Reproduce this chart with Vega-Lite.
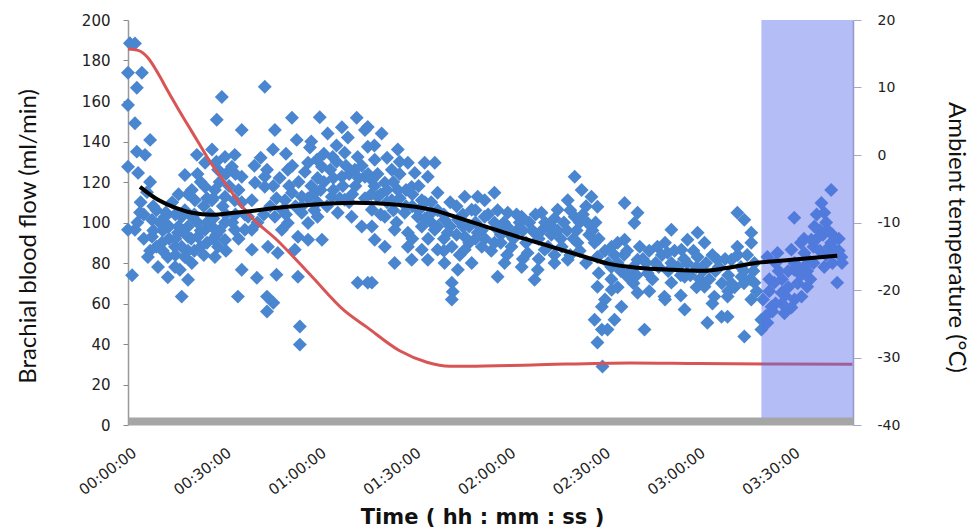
{
  "$schema": "https://vega.github.io/schema/vega-lite/v6.json",
  "width": 725,
  "height": 405,
  "autosize": {"type": "none"},
  "padding": {"left": 128, "top": 20, "right": 118, "bottom": 105},
  "background": "white",
  "config": {"view": {"stroke": null}, "axis": {"grid": false}},
  "datasets": {
    "flow": [
      {"m":0.6,"f":188.5},{"m":2.2,"f":188.4},{"m":0,"f":174},{"m":4.4,"f":174},{"m":2.8,"f":166.5},{"m":0,"f":158},{"m":29.7,"f":162},{"m":2.2,"f":149},{"m":28.1,"f":150.7},{"m":36,"f":145.7},
      {"m":7,"f":140.8},{"m":2.8,"f":135},{"m":5.4,"f":133.4},{"m":0,"f":127.5},{"m":3.2,"f":124.5},{"m":7,"f":120},{"m":18,"f":123.5},{"m":21.8,"f":133.4},{"m":26.6,"f":136},{"m":30.7,"f":132.4},
      {"m":33.8,"f":133.4},{"m":24.4,"f":129.5},{"m":28.5,"f":126},{"m":32.9,"f":127.5},{"m":36,"f":122.6},{"m":20.2,"f":116},{"m":24.4,"f":117.6},{"m":27.5,"f":116},{"m":30.7,"f":112.7},{"m":33.8,"f":111},
      {"m":21.2,"f":111},{"m":26.6,"f":111},{"m":3.8,"f":105},{"m":2.2,"f":96.4},{"m":0,"f":96.4},{"m":7.6,"f":101.3},{"m":11.7,"f":102.8},{"m":17,"f":102.8},{"m":20.2,"f":102.8},{"m":7.6,"f":93},
      {"m":12.6,"f":98},{"m":15.8,"f":95},{"m":10.7,"f":90},{"m":14.9,"f":88},{"m":19,"f":93},{"m":22.1,"f":93},{"m":24.4,"f":96.4},{"m":26.6,"f":98},{"m":30.7,"f":100},{"m":33.8,"f":96.4},
      {"m":37,"f":96.4},{"m":30.7,"f":91.4},{"m":28.5,"f":88},{"m":6.3,"f":83},{"m":12.6,"f":83},{"m":18,"f":83},{"m":9.5,"f":78},{"m":14.9,"f":78},{"m":20.2,"f":80},{"m":27.5,"f":83},
      {"m":1.3,"f":74},{"m":12.6,"f":73},{"m":19,"f":71.7},{"m":36,"f":76.7},{"m":17,"f":63.4},{"m":34.8,"f":63.4},{"m":16.4,"f":76.7},{"m":40.8,"f":72.7},{"m":47,"f":74.2},{"m":53.8,"f":73.2},
      {"m":44,"f":63.4},{"m":46,"f":60.4},{"m":44,"f":56},{"m":54.4,"f":48.6},{"m":54.4,"f":39.7},
      {"m":43.3,"f":167},{"m":51.9,"f":151.7},{"m":60.7,"f":152},{"m":72.4,"f":151.7},{"m":46.5,"f":145.7},{"m":53.4,"f":140.8},{"m":63.2,"f":144},{"m":67.7,"f":147},{"m":69.6,"f":142},{"m":75,"f":145.7},
      {"m":45.9,"f":136},{"m":57.6,"f":137},{"m":59.8,"f":131},{"m":64.8,"f":132.4},{"m":68.6,"f":134.4},{"m":72.7,"f":132.4},{"m":57,"f":129.5},{"m":61.4,"f":127.5},{"m":71.8,"f":126},{"m":50.6,"f":126},
      {"m":43.3,"f":122.6},{"m":67.7,"f":122.6},{"m":75,"f":122.6},{"m":40.2,"f":119.6},{"m":43.3,"f":117.6},{"m":51.9,"f":114.7},{"m":55,"f":112.7},{"m":59.1,"f":114.7},{"m":64.5,"f":112.7},{"m":68.6,"f":111.2},
      {"m":49.7,"f":111},{"m":39.2,"f":111},{"m":38,"f":102.8},{"m":46.5,"f":102.8},{"m":50.6,"f":99.8},{"m":55,"f":104.8},{"m":57,"f":99.8},{"m":60,"f":102.8},{"m":66.4,"f":104.8},{"m":70.8,"f":102.8},
      {"m":74,"f":98},{"m":39.2,"f":96.4},{"m":48.7,"f":96.4},{"m":53.8,"f":93},{"m":57,"f":91.5},{"m":61.4,"f":91.5},{"m":39.2,"f":86.6},{"m":44.3,"f":88},{"m":47.4,"f":85},{"m":52.8,"f":86.6},
      {"m":72.7,"f":70.3},
      {"m":75.9,"f":147.2},{"m":80.3,"f":144},{"m":85.4,"f":136},{"m":88.6,"f":129.5},{"m":93.9,"f":129.5},{"m":97.1,"f":129.5},{"m":75.9,"f":137.4},{"m":78.1,"f":131},{"m":83.5,"f":126},{"m":90.8,"f":124.5},
      {"m":94.9,"f":122.6},{"m":98,"f":114.7},{"m":77.2,"f":121},{"m":81.3,"f":119.6},{"m":85.4,"f":116},{"m":89.8,"f":117.6},{"m":79,"f":112.7},{"m":83.5,"f":111},{"m":93,"f":111},{"m":106.6,"f":112.7},
      {"m":110.7,"f":112.7},{"m":108.8,"f":106.3},{"m":112.9,"f":102.8},{"m":77.2,"f":106.3},{"m":81.3,"f":102.8},{"m":87.6,"f":104.8},{"m":91.7,"f":102.8},{"m":96.1,"f":104.8},{"m":100.2,"f":101.3},{"m":104.4,"f":101.3},
      {"m":77.2,"f":98},{"m":84.4,"f":96.4},{"m":88.6,"f":95},{"m":93,"f":98},{"m":97.1,"f":96.4},{"m":101.2,"f":95},{"m":106.6,"f":93},{"m":110.7,"f":95},{"m":78.1,"f":91.5},{"m":81.3,"f":88},
      {"m":88.6,"f":88},{"m":93,"f":86.6},{"m":98,"f":86.6},{"m":102.5,"f":88},{"m":106.6,"f":86.6},{"m":112,"f":88},{"m":89.8,"f":81.6},{"m":94.9,"f":81.6},{"m":100.2,"f":80},{"m":104.4,"f":76.7},
      {"m":108.8,"f":80},{"m":84.4,"f":80},{"m":77.2,"f":70.3},{"m":102.5,"f":70.3},{"m":102.5,"f":62},{"m":75.9,"f":70.3},{"m":102.8,"f":65.8},
      {"m":141.4,"f":122.6},{"m":143.6,"f":116},{"m":116,"f":114.7},{"m":112.9,"f":111},{"m":120.2,"f":104.8},{"m":124.6,"f":102.8},{"m":130.9,"f":104.8},{"m":136,"f":106.3},{"m":139.2,"f":111},{"m":146.7,"f":112.7},
      {"m":148.6,"f":107.8},{"m":141.4,"f":102.8},{"m":145.5,"f":99.8},{"m":134.1,"f":98},{"m":128.7,"f":95},{"m":123.3,"f":96.4},{"m":117,"f":96.4},{"m":116,"f":90},{"m":121.4,"f":88},{"m":126.5,"f":85},
      {"m":131.9,"f":86.6},{"m":137.3,"f":88},{"m":142.3,"f":90},{"m":147.7,"f":90},{"m":119.2,"f":80},{"m":124.6,"f":78},{"m":129.7,"f":76.7},{"m":135,"f":80},{"m":139.2,"f":81.6},{"m":148.6,"f":83},
      {"m":128.7,"f":71.7},{"m":117,"f":73.2},{"m":148.6,"f":68.3},{"m":150,"f":58.4},{"m":147.7,"f":52},{"m":150,"f":47.1},{"m":148.6,"f":40.7},{"m":150.2,"f":28.9},
      {"m":157.2,"f":109.6},{"m":161.3,"f":104.8},{"m":160.3,"f":99.8},{"m":172,"f":96.4},{"m":157.2,"f":91.5},{"m":153.1,"f":88},{"m":167.6,"f":88},{"m":177.1,"f":91.5},{"m":180.3,"f":95},{"m":182.5,"f":90},
      {"m":170.8,"f":85},{"m":175.2,"f":86.6},{"m":180.3,"f":83},{"m":161.3,"f":81.6},{"m":155,"f":80},{"m":186.6,"f":81.6},{"m":158.1,"f":73.2},{"m":164.5,"f":75},{"m":172,"f":70.3},{"m":176.2,"f":73.2},
      {"m":182.5,"f":68.3},{"m":153.1,"f":66.8},{"m":161.3,"f":65.3},{"m":169.8,"f":63.4},{"m":176.2,"f":57},{"m":185.6,"f":63.4},{"m":187.9,"f":53.5},{"m":183.4,"f":50.5},{"m":163.5,"f":47.1},{"m":151.8,"f":47.1},
      {"m":156.2,"f":58.4},{"m":154,"f":52},
      {"m":192.9,"f":104.8},{"m":195.1,"f":101.3},{"m":197.3,"f":95},{"m":197.3,"f":90},{"m":192.9,"f":88},{"m":191,"f":81.6},{"m":198.3,"f":80},{"m":194.2,"f":73.2},{"m":198.3,"f":70.3},{"m":189.8,"f":63.4},
      {"m":197.3,"f":62},{"m":189.8,"f":53.5},{"m":195.1,"f":43.7},{"m":200.5,"f":47.1},{"m":222.6,"f":116},{"m":219.5,"f":109.6},{"m":220.4,"f":104.8},{"m":210.9,"f":102.3},{"m":217.3,"f":98},{"m":221.4,"f":96.4},
      {"m":216.3,"f":91.5},{"m":222.6,"f":90},{"m":210,"f":86.6},{"m":205.6,"f":85},{"m":202.4,"f":83},{"m":214.1,"f":85},{"m":225.8,"f":83},{"m":210.9,"f":76.7},{"m":220.4,"f":78},{"m":224.5,"f":70.3},
      {"m":204.6,"f":70.3},{"m":215,"f":68.3},{"m":213.2,"f":63.4},{"m":206.9,"f":65.3},{"m":203.7,"f":58.4},{"m":207.8,"f":55.2},{"m":202.4,"f":50.5},{"m":200.5,"f":52},
      {"m":4,"f":110},{"m":6,"f":115},{"m":8,"f":108},{"m":10,"f":100},{"m":12,"f":105},{"m":14,"f":110},{"m":16,"f":98},{"m":18,"f":106},{"m":20,"f":92},{"m":22,"f":100},
      {"m":24,"f":108},{"m":26,"f":104},{"m":28,"f":94},{"m":30,"f":108},{"m":32,"f":118},{"m":34,"f":104},{"m":36,"f":110},{"m":9,"f":88},{"m":13,"f":92},{"m":17,"f":88},
      {"m":21,"f":86},{"m":25,"f":90},{"m":11,"f":96},{"m":15,"f":104},{"m":19,"f":114},{"m":23,"f":120},{"m":27,"f":112},{"m":29,"f":120},{"m":31,"f":124},{"m":35,"f":116},
      {"m":5,"f":92},{"m":7,"f":86},{"m":3,"f":100},
      {"m":5,"f":104},{"m":9,"f":106},{"m":13,"f":98},{"m":15,"f":92},{"m":17,"f":96},{"m":19,"f":98},{"m":21,"f":104},{"m":23,"f":96},{"m":25,"f":100},{"m":27,"f":102},
      {"m":29,"f":96},{"m":31,"f":104},{"m":33,"f":100},{"m":35,"f":92},{"m":37,"f":104},{"m":11,"f":86},{"m":15,"f":84},{"m":19,"f":86},{"m":23,"f":88},{"m":27,"f":92},
      {"m":31,"f":86},{"m":8,"f":96},{"m":24,"f":84},{"m":16,"f":114},{"m":22,"f":124},{"m":28,"f":130},{"m":34,"f":124},{"m":25,"f":112},
      {"m":40,"f":128},{"m":42,"f":132},{"m":44,"f":126},{"m":46,"f":118},{"m":48,"f":122},{"m":50,"f":134},{"m":52,"f":128},{"m":54,"f":120},{"m":56,"f":125},{"m":58,"f":118},
      {"m":60,"f":122},{"m":62,"f":120},{"m":64,"f":126},{"m":66,"f":130},{"m":68,"f":118},{"m":70,"f":124},{"m":72,"f":118},{"m":74,"f":128},{"m":76,"f":124},{"m":78,"f":118},
      {"m":80,"f":114},{"m":82,"f":110},{"m":84,"f":120},{"m":86,"f":112},{"m":88,"f":108},{"m":90,"f":114},{"m":92,"f":106},{"m":94,"f":110},{"m":96,"f":100},{"m":98,"f":106},
      {"m":100,"f":92},{"m":102,"f":98},{"m":104,"f":108},{"m":106,"f":98},{"m":108,"f":90},{"m":110,"f":100},{"m":45,"f":108},{"m":50,"f":104},{"m":55,"f":108},{"m":60,"f":110},
      {"m":65,"f":116},{"m":70,"f":110},{"m":75,"f":112},{"m":80,"f":104},{"m":85,"f":100},{"m":90,"f":92},{"m":95,"f":92},{"m":100,"f":86},{"m":105,"f":84},{"m":110,"f":92},
      {"m":41,"f":100},{"m":43,"f":104},{"m":47,"f":112},{"m":49,"f":106},{"m":51,"f":118},{"m":53,"f":108},{"m":57,"f":112},{"m":59,"f":106},{"m":61,"f":116},{"m":63,"f":108},
      {"m":65,"f":122},{"m":67,"f":112},{"m":69,"f":128},{"m":71,"f":114},{"m":73,"f":122},{"m":77,"f":114},{"m":79,"f":124},{"m":82,"f":116},{"m":84,"f":106},{"m":86,"f":124},
      {"m":88,"f":116},{"m":90,"f":108},{"m":92,"f":118},{"m":94,"f":102},{"m":96,"f":110},{"m":98,"f":98},{"m":100,"f":104},{"m":102,"f":110},{"m":104,"f":94},{"m":106,"f":104},
      {"m":108,"f":98},{"m":110,"f":106},{"m":112,"f":96},{"m":66,"f":138},{"m":62,"f":134},{"m":58,"f":140},{"m":78,"f":138},{"m":82,"f":132},{"m":86,"f":130},
      {"m":114,"f":104},{"m":116,"f":100},{"m":118,"f":94},{"m":120,"f":98},{"m":122,"f":92},{"m":124,"f":100},{"m":126,"f":90},{"m":128,"f":96},{"m":130,"f":92},{"m":132,"f":100},
      {"m":134,"f":94},{"m":136,"f":96},{"m":138,"f":100},{"m":140,"f":106},{"m":142,"f":96},{"m":144,"f":104},{"m":146,"f":94},{"m":148,"f":100},{"m":115,"f":86},{"m":120,"f":84},
      {"m":125,"f":82},{"m":130,"f":82},{"m":135,"f":84},{"m":140,"f":84},{"m":145,"f":80},{"m":118,"f":90},{"m":133,"f":88},{"m":143,"f":86},
      {"m":113,"f":92},{"m":117,"f":106},{"m":119,"f":100},{"m":121,"f":94},{"m":123,"f":104},{"m":125,"f":96},{"m":127,"f":100},{"m":129,"f":104},{"m":131,"f":96},{"m":133,"f":98},
      {"m":135,"f":102},{"m":137,"f":92},{"m":139,"f":96},{"m":141,"f":92},{"m":143,"f":100},{"m":145,"f":108},{"m":147,"f":96},{"m":149,"f":92},
      {"m":152,"f":80},{"m":154,"f":84},{"m":156,"f":76},{"m":158,"f":86},{"m":160,"f":78},{"m":162,"f":88},{"m":164,"f":80},{"m":166,"f":72},{"m":168,"f":78},{"m":170,"f":90},
      {"m":172,"f":80},{"m":174,"f":78},{"m":176,"f":82},{"m":178,"f":74},{"m":180,"f":78},{"m":182,"f":76},{"m":184,"f":72},{"m":186,"f":76},{"m":188,"f":70},{"m":190,"f":74},
      {"m":192,"f":68},{"m":194,"f":78},{"m":196,"f":84},{"m":198,"f":76},{"m":155,"f":68},{"m":160,"f":70},{"m":165,"f":66},{"m":170,"f":62},{"m":175,"f":64},{"m":180,"f":68},
      {"m":185,"f":60},{"m":190,"f":66},{"m":195,"f":70},{"m":151,"f":62},{"m":149,"f":75},{"m":153,"f":72},
      {"m":151,"f":86},{"m":153,"f":78},{"m":155,"f":90},{"m":157,"f":84},{"m":159,"f":76},{"m":161,"f":74},{"m":163,"f":82},{"m":165,"f":86},{"m":167,"f":80},{"m":169,"f":84},
      {"m":171,"f":76},{"m":173,"f":86},{"m":175,"f":74},{"m":177,"f":80},{"m":179,"f":86},{"m":181,"f":72},{"m":183,"f":80},{"m":185,"f":84},{"m":187,"f":78},{"m":189,"f":82},
      {"m":191,"f":70},{"m":193,"f":84},{"m":195,"f":76},{"m":197,"f":72},{"m":199,"f":66},
      {"m":201,"f":62},{"m":203,"f":66},{"m":205,"f":60},{"m":207,"f":72},{"m":209,"f":76},{"m":211,"f":80},{"m":213,"f":74},{"m":215,"f":82},{"m":217,"f":88},{"m":218,"f":92},
      {"m":219,"f":86},{"m":220,"f":94},{"m":221,"f":100},{"m":222,"f":88},{"m":223,"f":80},{"m":224,"f":86},{"m":225,"f":92},{"m":212,"f":70},{"m":214,"f":78},{"m":216,"f":72},
      {"m":206,"f":76},{"m":204,"f":56},{"m":208,"f":64},{"m":210,"f":58},{"m":202,"f":54},{"m":226,"f":80},
      {"m":203,"f":72},{"m":205,"f":80},{"m":207,"f":60},{"m":209,"f":68},{"m":211,"f":62},{"m":213,"f":90},{"m":215,"f":76},{"m":217,"f":80},{"m":219,"f":96},{"m":221,"f":84},
      {"m":223,"f":94},{"m":225,"f":86},{"m":218,"f":104},{"m":214,"f":92}
    ],
    "temp": [
      {"m":0,"t":15.7},{"m":3.2,"t":15.5},{"m":6.3,"t":14.4},{"m":9.5,"t":12.1},{"m":12.7,"t":9.4},{"m":15.8,"t":6.9},{"m":19,"t":4.4},{"m":22.1,"t":2.0},{"m":25.3,"t":-0.5},{"m":28.5,"t":-2.7},
      {"m":31.6,"t":-4.7},{"m":35.4,"t":-7.2},{"m":38,"t":-8.7},{"m":47.4,"t":-12.7},{"m":58.2,"t":-18.0},{"m":68.6,"t":-23.1},{"m":75.6,"t":-25.5},{"m":86,"t":-29.0},{"m":94.6,"t":-30.7},{"m":101.8,"t":-31.3},
      {"m":107.2,"t":-31.3},{"m":128.1,"t":-31.1},{"m":158.8,"t":-30.8},{"m":180.9,"t":-30.9},{"m":229.3,"t":-31.0}
    ],
    "trend": [
      {"m":3.8,"f":117.6},{"m":9.5,"f":111.2},{"m":14.9,"f":107.3},{"m":20.2,"f":104.8},{"m":26.6,"f":103.8},{"m":33.8,"f":104.8},{"m":37,"f":105.3},{"m":47.4,"f":107.3},{"m":58.2,"f":108.8},{"m":71.8,"f":109.7},
      {"m":85.4,"f":108.8},{"m":96.1,"f":106.3},{"m":106.6,"f":101.3},{"m":114,"f":97.6},{"m":123.3,"f":93},{"m":134.1,"f":88},{"m":144.5,"f":83.1},{"m":152,"f":79.7},{"m":161.3,"f":77.7},{"m":172,"f":76.7},
      {"m":182.5,"f":76.2},{"m":189.5,"f":77.5},{"m":199.2,"f":80.1},{"m":210,"f":81.6},{"m":224.5,"f":83.6}
    ],
    "zone": [{"m":200.5,"m2":229.5}]
  },
  "encoding": {
    "x": {
      "field": "m",
      "type": "quantitative",
      "scale": {"domain": [0, 229.5], "nice": false, "zero": false},
      "axis": {
        "title": "Time ( hh : mm : ss )",
        "values": [0, 30, 60, 90, 120, 150, 180, 210],
        "labelExpr": "utcFormat(datum.value*60000, '%H:%M:%S')",
        "labelAngle": -37,
        "labelFont": "DejaVu Sans",
        "labelFontSize": 15,
        "labelColor": "#222222",
        "labelPadding": 24,
        "labelOffset": 2,
        "labelOverlap": false,
        "labelBound": false,
        "labelFlush": false,
        "ticks": false,
        "domainColor": "#a6a6a6",
        "domainWidth": 8,
        "offset": -4,
        "zindex": 1,
        "titleFont": "DejaVu Sans",
        "titleFontSize": 21,
        "titleFontWeight": "bold",
        "titleColor": "#111111",
        "titleX": 354,
        "titleY": 96,
        "titleAlign": "center",
        "titleBaseline": "middle"
      }
    }
  },
  "layer": [
    {
      "data": {"name": "flow"},
      "mark": {"type": "point", "shape": "diamond", "filled": true, "size": 195, "color": "#4a86d0", "opacity": 1, "strokeWidth": 0},
      "encoding": {
        "y": {
          "field": "f",
          "type": "quantitative",
          "scale": {"domain": [0, 200], "nice": false},
          "axis": {
            "title": "Brachial blood flow (ml/min)",
            "orient": "left",
            "values": [0, 20, 40, 60, 80, 100, 120, 140, 160, 180, 200],
            "labelFont": "DejaVu Sans",
            "labelFontSize": 15,
            "labelColor": "#222222",
            "labelPadding": 13,
            "tickSize": 5,
            "tickColor": "#888888",
            "domainColor": "#999999",
            "domainWidth": 1.5,
            "titleFont": "Lato",
            "titleFontSize": 24,
            "titleFontWeight": "normal",
            "titleColor": "#111111",
            "titleX": -100,
            "titleY": 216,
            "titleAngle": -90,
            "titleAlign": "center",
            "titleBaseline": "middle"
          }
        }
      }
    },
    {
      "data": {"name": "temp"},
      "mark": {"type": "line", "color": "#d95555", "strokeWidth": 3, "interpolate": "monotone"},
      "encoding": {
        "y": {
          "field": "t",
          "type": "quantitative",
          "scale": {"domain": [-40, 20], "nice": false, "zero": false},
          "axis": {
            "title": "Ambient temperature (°C)",
            "orient": "right",
            "values": [-40, -30, -20, -10, 0, 10, 20],
            "labelExpr": "'' + datum.value",
            "labelFont": "DejaVu Sans",
            "labelFontSize": 14,
            "labelColor": "#222222",
            "labelPadding": 16,
            "tickSize": 8,
            "tickColor": "#a8a8c8",
            "domainColor": "#9a9ac8",
            "domainWidth": 1.5,
            "titleFont": "Lato",
            "titleFontSize": 24,
            "titleFontWeight": "normal",
            "titleColor": "#111111",
            "titleX": 102,
            "titleY": 217,
            "titleAngle": 90,
            "titleAlign": "center",
            "titleBaseline": "middle"
          }
        }
      }
    },
    {
      "data": {"name": "zone"},
      "mark": {"type": "rect", "color": "#5b6ced", "opacity": 0.45},
      "encoding": {
        "x2": {"field": "m2"},
        "y": {"datum": 200, "type": "quantitative", "scale": {"domain": [0, 200], "nice": false}, "axis": null},
        "y2": {"datum": 0}
      }
    },
    {
      "data": {"name": "trend"},
      "mark": {"type": "line", "color": "#000000", "strokeWidth": 4, "interpolate": "monotone"},
      "encoding": {
        "y": {"field": "f", "type": "quantitative", "scale": {"domain": [0, 200], "nice": false}, "axis": null}
      }
    }
  ],
  "resolve": {"scale": {"y": "independent"}}
}
